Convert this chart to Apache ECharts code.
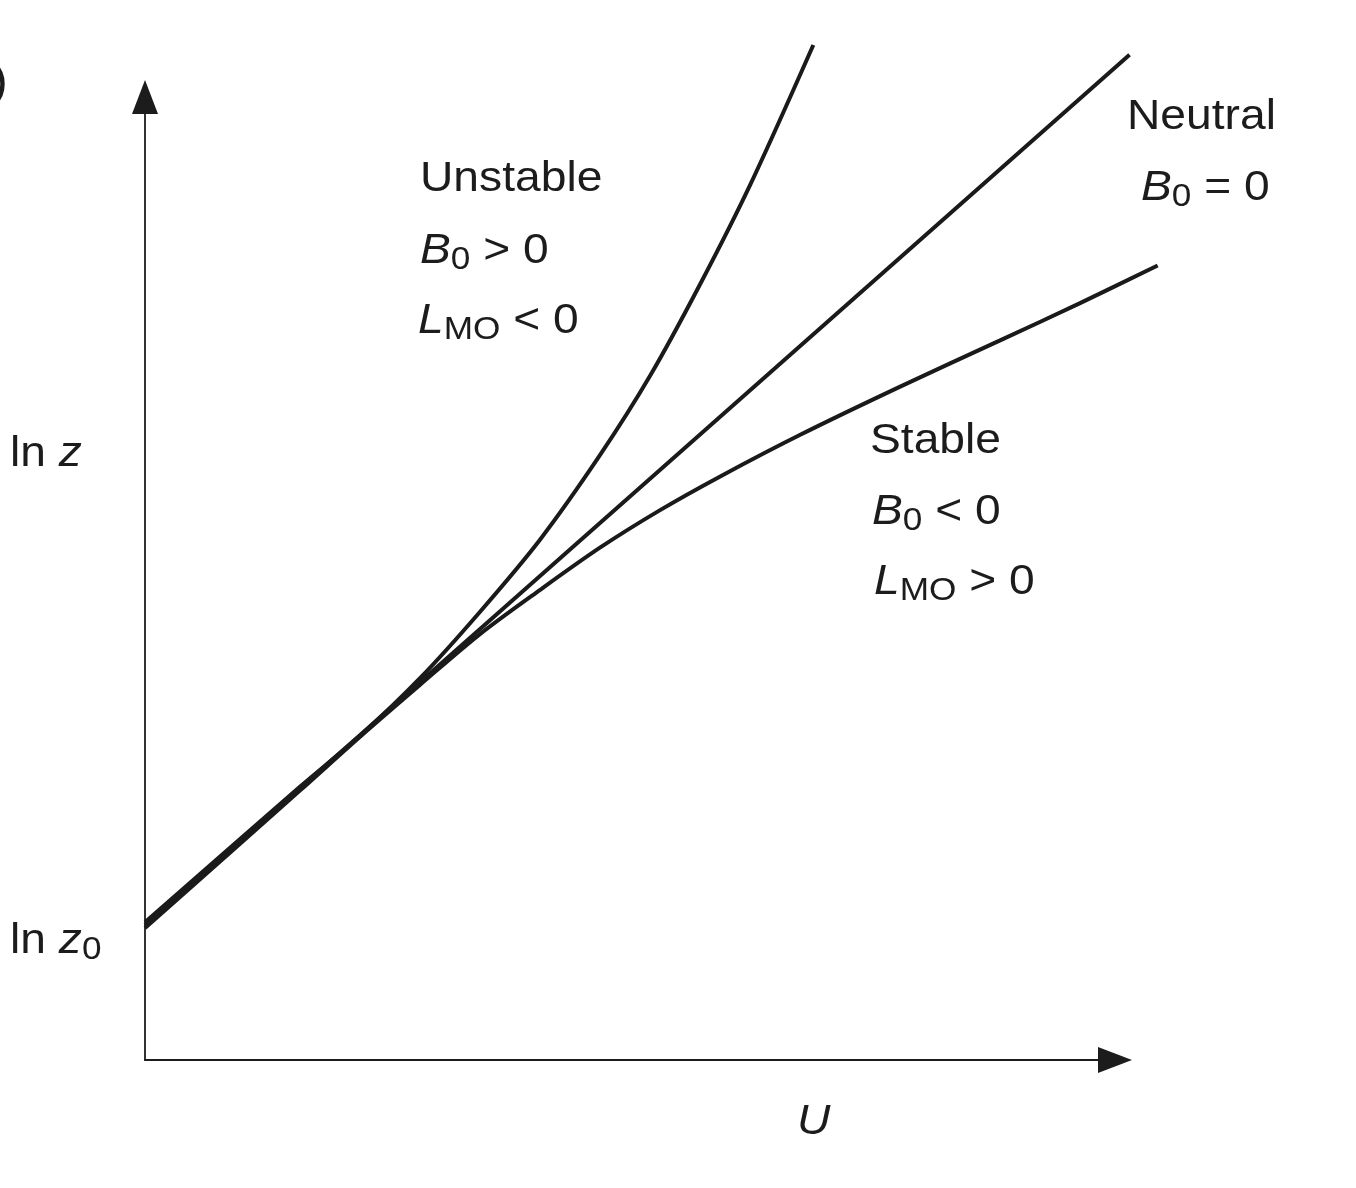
<!DOCTYPE html>
<html>
<head>
<meta charset="utf-8">
<script src="https://cdn.jsdelivr.net/npm/echarts@6/dist/echarts.min.js"></script>
<style>
html,body{margin:0;padding:0;background:#fff;}
#chart{width:1356px;height:1188px;}
</style>
</head>
<body>
<div id="chart"></div>
<script>
// Data (arbitrary units: U on x, ln z on y)
const unstableU   = [0, 16.0, 22.2, 28.4, 34.5, 40.7, 46.9, 52.1, 57.2, 62.4, 68.9];
const unstableLnZ = [14.3, 28.4, 33.7, 39.7, 46.5, 54.0, 62.8, 71.1, 80.5, 90.9, 105.4];
const neutralU    = [0, 16.0, 101.5];
const neutralLnZ  = [14.0, 28.25, 104.4];
const stableU     = [0, 16.0, 22.2, 28.4, 34.5, 40.7, 46.9, 53.1, 59.3, 67.5, 77.8, 88.1, 96.4, 104.4];
const stableLnZ   = [13.7, 28.0, 33.6, 39.0, 44.2, 48.8, 53.2, 57.1, 60.6, 64.9, 69.9, 74.7, 78.6, 82.5];

const zip = (a, b) => a.map((v, i) => [v, b[i]]);

// layout: axes grid (with arrows) and a wider data grid sharing the same scale
const L = 145, R = 1115, T = 97, B = 1060;      // axis frame in px
const AX_MAX = 100;
const pxX = (R - L) / AX_MAX, pxY = (B - T) / AX_MAX;
const DR = 1200, DT = 20;                         // data grid extends further
const dataXMax = (DR - L) / pxX, dataYMax = (B - DT) / pxY;

const FONT = '"Liberation Sans", Arial, sans-serif';
const FS = 42, SUB = 32, INK = '#1c1c1c';
const SX = 1.1;
const cv = document.createElement('canvas').getContext('2d');
function w(t, size, it) {
  cv.font = (it ? 'italic ' : '') + size + 'px "Liberation Sans"';
  return cv.measureText(t).width;
}
// segments: [text, italic, subscript]
function label(x, y, segs, size) {
  const fs = size || FS;
  let cx = 0;
  const children = segs.map(([t, it, sub]) => {
    const s = sub ? SUB : fs;
    const el = {
      type: 'text', x: cx, y: sub ? 9 : 0,
      style: { text: t, fontSize: s, fontFamily: FONT, fontStyle: it ? 'italic' : 'normal',
               fill: INK, verticalAlign: 'middle', align: 'left' }
    };
    cx += w(t, s, it);
    return el;
  });
  return { type: 'group', x: x, y: y, scaleX: SX, children: children };
}

const chart = echarts.init(document.getElementById('chart'));
const hidden = { axisLabel: { show: false }, axisTick: { show: false }, splitLine: { show: false } };
const frameAxis = Object.assign({
  type: 'value', min: 0, max: AX_MAX, gridIndex: 0,
  axisLine: { show: true, onZero: false, symbol: ['none', 'triangle'], symbolSize: [26, 34],
              lineStyle: { color: '#1c1c1c', width: 1.8 } }
}, hidden);
const lineStyle = { color: '#1a1a1a', width: 4 };
const mk = (name, d) => ({
  name, type: 'line', data: d, showSymbol: false, smooth: 0.3, clip: false,
  xAxisIndex: 1, yAxisIndex: 1, lineStyle, silent: true, animation: false
});

chart.setOption({
  animation: false,
  backgroundColor: '#fff',
  grid: [
    { left: L, right: 1356 - R, top: T, bottom: 1188 - B },
    { left: L, right: 1356 - DR, top: DT, bottom: 1188 - B }
  ],
  xAxis: [
    frameAxis,
    Object.assign({ type: 'value', min: 0, max: dataXMax, gridIndex: 1, axisLine: { show: false } }, hidden)
  ],
  yAxis: [
    frameAxis,
    Object.assign({ type: 'value', min: 0, max: dataYMax, gridIndex: 1, axisLine: { show: false } }, hidden)
  ],
  series: [
    mk('Unstable', zip(unstableU, unstableLnZ)),
    mk('Neutral', zip(neutralU, neutralLnZ)),
    mk('Stable', zip(stableU, stableLnZ))
  ],
  graphic: [
    label(-54, 83, [['(a)', false]], 46),
    label(420, 179, [['Unstable', false]]),
    label(420, 251, [['B', true], ['0', false, true], [' > 0', false]]),
    label(418, 321, [['L', true], ['MO', false, true], [' < 0', false]]),
    label(1127, 117, [['Neutral', false]]),
    label(1141, 188, [['B', true], ['0', false, true], [' = 0', false]]),
    label(870, 441, [['Stable', false]]),
    label(872, 512, [['B', true], ['0', false, true], [' < 0', false]]),
    label(874, 582, [['L', true], ['MO', false, true], [' > 0', false]]),
    label(10, 454, [['ln ', false], ['z', true]]),
    label(10, 941, [['ln ', false], ['z', true], ['0', false, true]]),
    label(797, 1122, [['U', true]])
  ]
});
</script>
</body>
</html>
